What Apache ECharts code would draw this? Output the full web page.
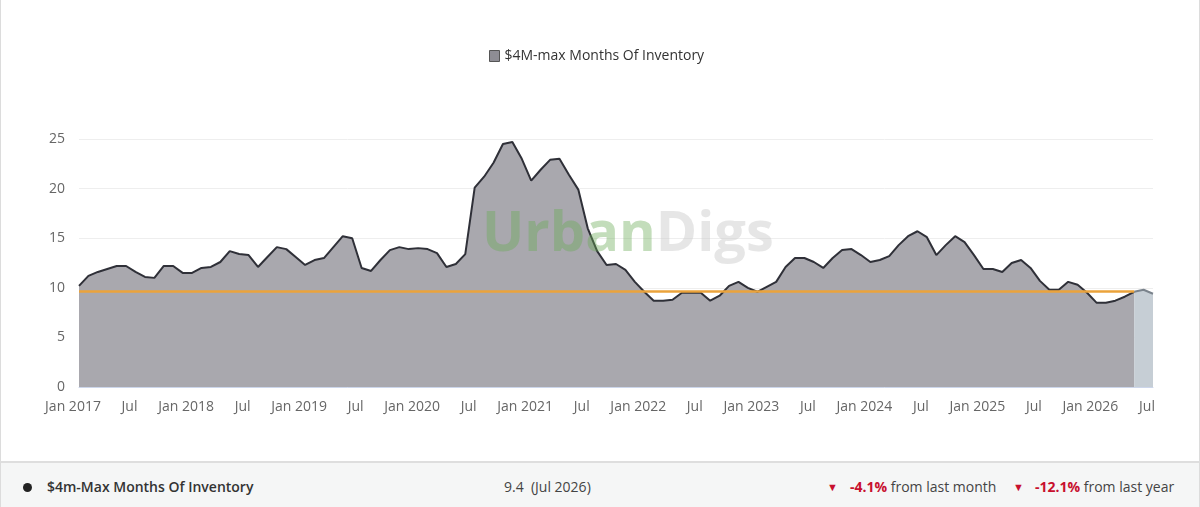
<!DOCTYPE html>
<html>
<head>
<meta charset="utf-8">
<title>$4M-max Months Of Inventory</title>
<script src="https://cdn.jsdelivr.net/npm/echarts@6/dist/echarts.min.js"></script>
<style>
  body { margin: 0; background: #fff; font-family: "Open Sans", sans-serif; }
  #wrap { width: 1200px; height: 507px; position: relative; overflow: hidden; }
  #chart { width: 1200px; height: 461px; box-sizing: border-box; border-left: 1px solid #dcdcdc; border-right: 1px solid #dcdcdc; }
  #foot { position: absolute; left: 0; top: 461px; width: 1200px; height: 46px; box-sizing: border-box;
          background: #f5f6f6; border-top: 2px solid #dedede; border-left: 1px solid #dcdcdc; border-right: 1px solid #dcdcdc;
          font-size: 14px; color: #444; }
  #foot span { position: absolute; top: 14px; line-height: 20px; white-space: nowrap; }
  .dot { display: inline-block; width: 9px; height: 9px; border-radius: 50%; background: #222; }
  .red { color: #c8102e; font-weight: 700; }
  .tri { color: #c8102e; font-size: 11px; }
</style>
</head>
<body>
<div id="wrap">
  <div id="chart"></div>
  <div id="foot">
    <span style="left:22px;top:19px;line-height:9px"><i class="dot"></i></span>
    <span style="left:46px;font-weight:600;color:#333">$4m-Max Months Of Inventory</span>
    <span style="left:503px">9.4&nbsp; (Jul 2026)</span>
    <span class="tri" style="left:826px">&#9660;</span>
    <span style="left:849px"><b class="red">-4.1%</b> from last month</span>
    <span class="tri" style="left:1012px">&#9660;</span>
    <span style="left:1034px"><b class="red">-12.1%</b> from last year</span>
  </div>
</div>
<script>
// monthly months-of-inventory, Jan 2017 .. Jul 2026
var startYear = 2017;
var monthNames = ['Jan', 'Feb', 'Mar', 'Apr', 'May', 'Jun', 'Jul', 'Aug', 'Sep', 'Oct', 'Nov', 'Dec'];

var values = [
  10.2, 11.2, 11.6, 11.9, 12.2, 12.2, 11.6, 11.1, 11.0, 12.2, 12.2, 11.5, // 2017
  11.5, 12.0, 12.1, 12.6, 13.7, 13.4, 13.3, 12.1, 13.1, 14.1, 13.9, 13.1, // 2018
  12.3, 12.8, 13.0, 14.1, 15.2, 15.0, 12.0, 11.7, 12.8, 13.8, 14.1, 13.9, // 2019
  14.0, 13.9, 13.5, 12.1, 12.4, 13.4, 20.1, 21.2, 22.6, 24.5, 24.7, 23.0, // 2020
  20.8, 21.9, 22.9, 23.0, 21.4, 19.9, 16.0, 13.7, 12.3, 12.4, 11.8, 10.6, // 2021
  9.6, 8.7, 8.7, 8.8, 9.5, 9.5, 9.5, 8.7, 9.2, 10.2, 10.6, 10.0,          // 2022
  9.6, 10.1, 10.6, 12.1, 13.0, 13.0, 12.6, 12.0, 13.0, 13.8, 13.9, 13.3,  // 2023
  12.6, 12.8, 13.2, 14.3, 15.2, 15.7, 15.1, 13.3, 14.3, 15.2, 14.6, 13.3, // 2024
  11.9, 11.9, 11.6, 12.5, 12.8, 12.0, 10.7, 9.8, 9.8, 10.6, 10.3, 9.5,    // 2025
  8.5, 8.5, 8.7, 9.1, 9.6, 9.8, 9.4                                       // 2026
];

var benchmark = 9.65;      // orange reference line
var partialFrom = 112;     // last months drawn lighter (May 2026 on)
var yTicks = [0, 5, 10, 15, 20, 25];

var categories = [];
for (var i = 0; i < values.length; i++) {
  categories.push(monthNames[i % 12] + ' ' + (startYear + Math.floor(i / 12)));
}

var mainData = values.map(function (v, i) { return i <= partialFrom ? v : null; });
var tailData = values.map(function (v, i) { return i >= partialFrom ? v : null; });

var chart = echarts.init(document.getElementById('chart'), null, { renderer: 'canvas' });

var option = {
  animation: false,
  textStyle: { fontFamily: 'Open Sans' },
  legend: {
    top: 44,
    left: 483,
    itemWidth: 10,
    itemHeight: 11,
    textStyle: { fontSize: 14, color: '#333' },
    data: [{
      name: '$4M-max Months Of Inventory',
      icon: 'rect',
      itemStyle: { color: '#8e8d94', borderColor: '#555', borderWidth: 1 }
    }]
  },
  grid: { left: 78, right: 46, top: 139, bottom: 74 },
  xAxis: {
    type: 'category',
    boundaryGap: false,
    data: categories,
    axisLine: { lineStyle: { color: '#ccd6eb' } },
    axisTick: { show: false },
    axisLabel: {
      interval: 5,
      color: '#666',
      fontSize: 14,
      margin: 13,
      formatter: function (v) {
        return '{s|' + (v.indexOf('Jan') === 0 ? v : v.slice(0, 3)) + '}';
      },
      rich: {
        s: { color: '#666', fontSize: 14, padding: [0, 12, 0, 0] }
      }
    }
  },
  yAxis: {
    type: 'value',
    min: yTicks[0],
    max: yTicks[yTicks.length - 1],
    interval: 5,
    axisLine: { show: false },
    axisTick: { show: false },
    axisLabel: { color: '#666', fontSize: 14, margin: 14 },
    splitLine: { lineStyle: { color: '#eeeeee' } }
  },
  graphic: [{
    type: 'text',
    left: 481,
    top: 207,
    z: 100,
    silent: true,
    style: {
      text: '{a|Urban}{b|Digs}',
      rich: {
        a: { fontSize: 56, fontWeight: 'bold', fontFamily: 'Open Sans', fill: 'rgba(105,170,85,0.4)' },
        b: { fontSize: 56, fontWeight: 'bold', fontFamily: 'Open Sans', fill: 'rgba(200,200,200,0.45)' }
      }
    }
  }],
  series: [{
    name: '$4M-max Months Of Inventory',
    type: 'line',
    data: mainData,
    symbol: 'none',
    lineStyle: { color: '#2f3038', width: 2 },
    itemStyle: { color: '#8e8d94' },
    areaStyle: { color: '#a9a8ae', opacity: 1 },
    markLine: {
      silent: true,
      symbol: 'none',
      label: { show: false },
      lineStyle: { color: '#eba33b', width: 2.5, type: 'solid' },
      data: [[
        { coord: [categories[0], benchmark] },
        { coord: [categories[partialFrom], benchmark] }
      ]]
    }
  }, {
    name: 'partial',
    type: 'line',
    data: tailData,
    symbol: 'none',
    lineStyle: { color: '#7a838c', width: 2 },
    areaStyle: { color: '#c6ced5', opacity: 1 }
  }]
};

chart.setOption(option);
</script>
</body>
</html>
